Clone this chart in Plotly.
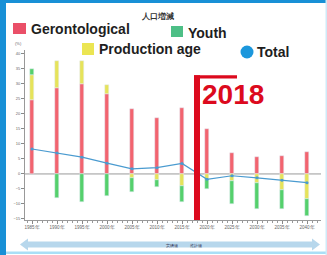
import plotly.graph_objects as go

# ---------------- data ----------------
years = [1985, 1990, 1995, 2000, 2005, 2010, 2015, 2020, 2025, 2030, 2035, 2040]
year_labels = [f"{y}年" for y in years]
gerontological = [24.5, 28.5, 30.0, 26.7, 21.5, 18.5, 22.0, 15.0, 6.9, 5.8, 5.9, 7.3]
production_age = [8.5, 9.0, 7.5, 2.8, -1.2, -2.0, -4.0, -1.7, -2.4, -3.1, -5.3, -8.2]
youth = [2.0, -7.9, -9.4, -7.2, -4.7, -2.3, -5.4, -3.4, -7.7, -8.7, -6.4, -5.8]
total = [8.3, 7.0, 5.6, 3.6, 1.7, 2.1, 3.5, -1.8, -0.6, -1.3, -2.1, -2.9]
y_ticks = [-15, -10, -5, 0, 5, 10, 15, 20, 25, 30, 35, 40]
marker_year = 2018
marker_label = "2018"
title_text = "人口増減"
series_names = ["Gerontological", "Youth", "Production age", "Total"]
period_labels = ["実績値", "推計値"]

# ---------------- style ----------------
W, H = 327, 255
RED, YEL, GRN, BLU = "#f2646f", "#e6e35a", "#55d06c", "#4a9bd0"
DARKRED = "#dc0a1e"
FRAME = "#1890d6"
FONT = "Liberation Sans, Arial, sans-serif"

def px(x):
    return x / W

def py(y):
    return 1 - y / H

fig = go.Figure()
bw = 0.8
fig.add_bar(x=years, y=gerontological, name=series_names[0], marker_color=RED, width=bw)
fig.add_bar(x=years, y=production_age, name=series_names[2], marker_color=YEL, width=bw)
fig.add_bar(x=years, y=youth, name=series_names[1], marker_color=GRN, width=bw)
fig.add_scatter(x=years, y=total, name=series_names[3], mode="lines+markers",
                line=dict(color=BLU, width=1.2), marker=dict(color=BLU, size=3))

shapes = []
# frame
shapes.append(dict(type="rect", xref="paper", yref="paper", x0=0, x1=px(6), y0=0, y1=1,
                   fillcolor=FRAME, line_width=0, layer="above"))
shapes.append(dict(type="rect", xref="paper", yref="paper", x0=0, x1=1, y0=py(3), y1=1,
                   fillcolor=FRAME, line_width=0, layer="above"))
shapes.append(dict(type="rect", xref="paper", yref="paper", x0=px(6), x1=1, y0=py(254), y1=py(251.5),
                   fillcolor="#a9dff6", line_width=0, layer="above"))
shapes.append(dict(type="rect", xref="paper", yref="paper", x0=px(325.5), x1=1, y0=0, y1=1,
                   fillcolor="#cfeaf8", line_width=0, layer="above"))
# zero line
shapes.append(dict(type="line", xref="paper", yref="y", x0=px(25), x1=px(321), y0=0, y1=0,
                   line=dict(color="#9a9a9a", width=1), layer="below"))
# 2018 marker
shapes.append(dict(type="rect", xref="x", yref="y", x0=marker_year - 0.6, x1=marker_year + 0.6,
                   y0=-15.8, y1=32.9, fillcolor=DARKRED, line_width=0, layer="above"))
shapes.append(dict(type="rect", xref="x", yref="y", x0=marker_year - 0.6, x1=marker_year + 8.0,
                   y0=31.8, y1=32.9, fillcolor=DARKRED, line_width=0, layer="above"))
# bottom arrow
pts = [(20, 244.5), (28, 238.5), (28, 241.5), (312, 241.5), (312, 238.5), (320, 244.5),
       (312, 250.5), (312, 247.5), (28, 247.5), (28, 250.5)]
path = "M " + " L ".join(f"{px(a):.5f},{py(b):.5f}" for a, b in pts) + " Z"
shapes.append(dict(type="path", xref="paper", yref="paper", path=path,
                   fillcolor="#b7d7ec", line_width=0, layer="above"))
# legend swatches
shapes.append(dict(type="rect", xref="paper", yref="paper", x0=px(13), x1=px(26), y0=py(34), y1=py(23),
                   fillcolor="#ea4f68", line_width=0))
shapes.append(dict(type="rect", xref="paper", yref="paper", x0=px(171), x1=px(183), y0=py(37), y1=py(26),
                   fillcolor="#4dbf86", line_width=0))
shapes.append(dict(type="rect", xref="paper", yref="paper", x0=px(82), x1=px(94), y0=py(55), y1=py(43),
                   fillcolor="#ebe552", line_width=0))
shapes.append(dict(type="circle", xref="paper", yref="paper", x0=px(240.5), x1=px(253.5), y0=py(58.5), y1=py(45.5),
                   fillcolor="#1c97dc", line_width=0))

ann = []
def text(x, y, s, size, color="#222", bold=False, xanchor="left"):
    ann.append(dict(xref="paper", yref="paper", x=px(x), y=py(y), text=f"<b>{s}</b>" if bold else s,
                    showarrow=False, xanchor=xanchor, yanchor="middle",
                    font=dict(size=size, color=color, family=FONT)))

text(157, 16, title_text, 8, "#333", True, "center")
text(29, 29, series_names[0], 14, "#1e1e1e", True)
text(186, 32.5, series_names[1], 14, "#1e1e1e", True)
text(97, 49.5, series_names[2], 14, "#1e1e1e", True)
text(255, 52.5, series_names[3], 14, "#1e1e1e", True)
text(18, 43.5, "(%)", 4, "#666", False, "center")
text(172, 245, period_labels[0], 4, "#335", False, "center")
text(196, 245, period_labels[1], 4, "#335", False, "center")
ann.append(dict(xref="x", yref="y", x=marker_year + 0.5, y=26.5, text=f"<b>{marker_label}</b>",
                showarrow=False, xanchor="left", yanchor="middle",
                font=dict(size=28, color=DARKRED, family=FONT)))

fig.update_layout(
    width=W, height=H, margin=dict(l=0, r=0, t=0, b=0),
    paper_bgcolor="white", plot_bgcolor="white",
    barmode="relative", bargap=0, showlegend=False,
    shapes=shapes, annotations=ann,
    xaxis=dict(domain=[px(25), px(321)], range=[1983.6, 2042.8],
               tickvals=years, ticktext=year_labels, ticks="outside", ticklen=3,
               tickangle=0,
               tickcolor="#888", showline=True, linecolor="#999", linewidth=1,
               showgrid=False, zeroline=False,
               tickfont=dict(size=4.5, color="#666", family=FONT),
               minor=dict(ticks="outside", dtick=1, ticklen=1.5, tickcolor="#999")),
    yaxis=dict(domain=[py(220), py(50)], range=[-15.35, 41.3],
               tickvals=y_ticks, ticks="outside", ticklen=3, tickcolor="#888",
               showline=True, linecolor="#999", linewidth=1,
               showgrid=False, zeroline=False,
               tickfont=dict(size=4, color="#666", family=FONT)),
)

fig.write_html("out.html", config={"displayModeBar": False},
               post_script="document.body.style.margin='0';document.body.style.overflow='hidden';")
